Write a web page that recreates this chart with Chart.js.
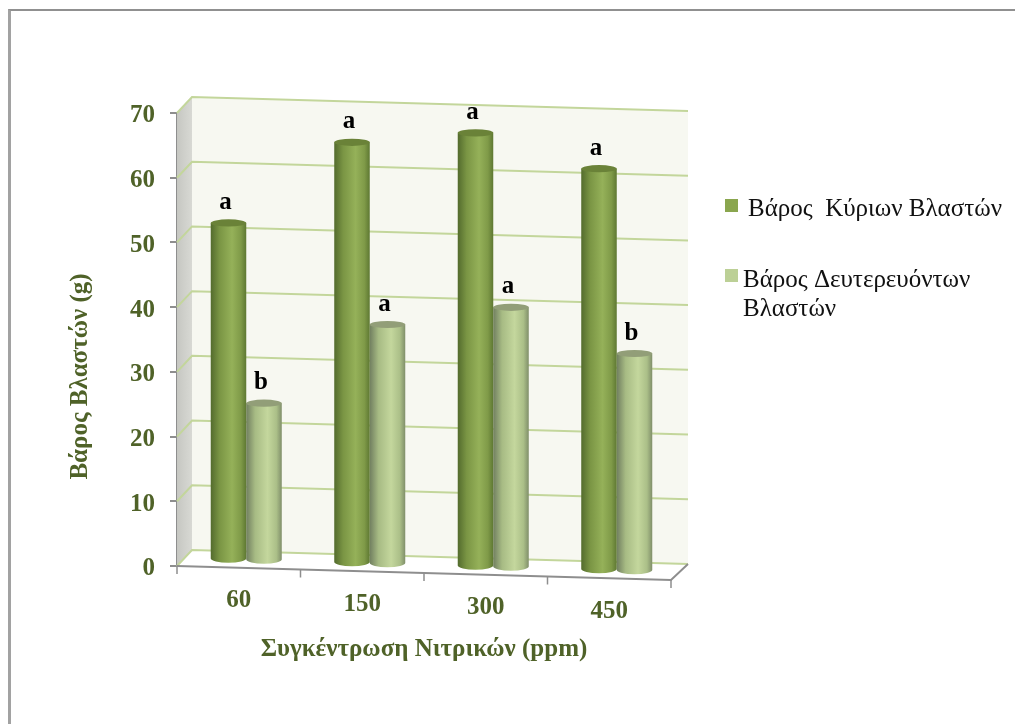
<!DOCTYPE html>
<html>
<head>
    <meta charset="utf-8">
    <title>Βάρος Βλαστών</title>
    <script src="https://cdn.jsdelivr.net/npm/chart.js"></script>
    <style>
        html, body { margin: 0; padding: 0; background: white; overflow: hidden; }
        .frame {
            position: absolute; left: 8px; top: 9px; right: -10px; bottom: -10px;
            border-left: 3px solid #a2a2a2;
            border-top: 2px solid #909090;
        }
        canvas { position: absolute; left: 0; top: 0; }
    </style>
</head>
<body>
    <div class="frame"></div>
    <canvas id="chart" width="1015" height="724"></canvas>

    <script>
        const categories = ['60', '150', '300', '450'];
        const mainShoots = [52, 65, 67, 62];
        const sideShoots = [24.3, 37, 40.2, 33.6];
        const mainLetters = ['a', 'a', 'a', 'a'];
        const sideLetters = ['b', 'a', 'a', 'b'];
        const yTicks = [0, 10, 20, 30, 40, 50, 60, 70];
        const legendMain = ['Βάρος  Κύριων Βλαστών'];
        const legendSide = ['Βάρος Δευτερευόντων', 'Βλαστών'];
        const yTitle = 'Βάρος Βλαστών (g)';

        const serif = '"Liberation Serif", "Times New Roman", serif';
        const axisGreen = '#4f6228';
        const gridGreen = '#c3d69b';
        const axisGrey = '#8e8e8e';

        // 3D look: depth of the box and the slope of the floor
        const depthX = 15;
        const depthXRight = 17;
        const depthY = 16;
        const slope = 0.0283;

        function drop(area, x) {
            return (x - area.left) * slope;
        }

        const box3d = {
            id: 'box3d',
            beforeDatasetsDraw(chart) {
                const { ctx, chartArea: area, scales } = chart;
                const y0 = scales.y.getPixelForValue(0);
                const y70 = scales.y.getPixelForValue(70);
                const endDrop = drop(area, area.right);
                const backRight = area.right + depthXRight;
                ctx.save();

                // side wall
                let g = ctx.createLinearGradient(area.left, 0, area.left + depthX, 0);
                g.addColorStop(0, '#c6c7c2');
                g.addColorStop(1, '#d8d9d4');
                ctx.fillStyle = g;
                ctx.beginPath();
                ctx.moveTo(area.left, y70);
                ctx.lineTo(area.left + depthX, y70 - depthY);
                ctx.lineTo(area.left + depthX, y0 - depthY);
                ctx.lineTo(area.left, y0);
                ctx.closePath();
                ctx.fill();

                // back wall
                ctx.fillStyle = '#f7f8f1';
                ctx.beginPath();
                ctx.moveTo(area.left + depthX, y70 - depthY);
                ctx.lineTo(backRight, y70 - depthY + endDrop);
                ctx.lineTo(backRight, y0 - depthY + endDrop);
                ctx.lineTo(area.left + depthX, y0 - depthY);
                ctx.closePath();
                ctx.fill();

                // gridlines wrap round the side and back walls
                ctx.strokeStyle = gridGreen;
                ctx.lineWidth = 2;
                yTicks.forEach(v => {
                    const y = scales.y.getPixelForValue(v);
                    ctx.beginPath();
                    ctx.moveTo(area.left, y);
                    ctx.lineTo(area.left + depthX, y - depthY);
                    ctx.lineTo(backRight, y - depthY + endDrop);
                    ctx.stroke();
                });

                // floor front edge, right edge and ticks
                ctx.strokeStyle = axisGrey;
                ctx.beginPath();
                ctx.moveTo(area.left, y0);
                ctx.lineTo(area.right, y0 + endDrop);
                ctx.lineTo(backRight, y0 + endDrop - depthY);
                ctx.stroke();
                ctx.lineWidth = 1.5;
                const step = (area.right - area.left) / categories.length;
                for (let i = 0; i <= categories.length; i++) {
                    const x = area.left + i * step;
                    ctx.beginPath();
                    ctx.moveTo(x, y0 + drop(area, x));
                    ctx.lineTo(x, y0 + drop(area, x) + 8);
                    ctx.stroke();
                }

                // category labels follow the slope of the floor
                ctx.fillStyle = axisGreen;
                ctx.font = 'bold 25px ' + serif;
                ctx.textAlign = 'center';
                ctx.textBaseline = 'middle';
                categories.forEach((c, i) => {
                    const x = scales.x.getPixelForValue(i);
                    ctx.fillText(c, x, y0 + drop(area, x) + 33);
                });

                // value labels, sitting a little under their tick marks
                ctx.textAlign = 'right';
                yTicks.forEach(v => {
                    ctx.fillText(String(v), area.left - 22, scales.y.getPixelForValue(v) + 3);
                });

                // y title sits below the middle of the axis, so it is placed by hand
                ctx.textAlign = 'center';
                ctx.save();
                ctx.translate(81, (y0 + y70) / 2 + 37);
                ctx.rotate(-Math.PI / 2);
                ctx.fillText(yTitle, 0, 0);
                ctx.restore();
                ctx.restore();
            },
            // each bar is painted as a cylinder in the middle of the box depth
            beforeDatasetDraw(chart, args) {
                const { ctx, chartArea: area } = chart;
                const meta = chart.getDatasetMeta(args.index);
                const shades = cylinderShades[args.index];
                ctx.save();
                meta.data.forEach(el => {
                    const p = el.getProps(['x', 'y', 'base', 'width'], true);
                    const cx = p.x + depthX / 2;
                    const r = p.width / 2;
                    const top = p.y + drop(area, cx) - depthY / 2;
                    const bottom = p.base + drop(area, cx) - depthY / 2;
                    const g = ctx.createLinearGradient(cx - r, 0, cx + r, 0);
                    shades.side.forEach((c, i) => g.addColorStop(shades.stops[i], c));
                    ctx.fillStyle = g;
                    ctx.beginPath();
                    ctx.moveTo(cx - r, top);
                    ctx.lineTo(cx - r, bottom);
                    ctx.ellipse(cx, bottom, r, 4.2, 0, Math.PI, 0, true);
                    ctx.lineTo(cx + r, top);
                    ctx.closePath();
                    ctx.fill();
                    ctx.fillStyle = shades.top;
                    ctx.beginPath();
                    ctx.ellipse(cx, top, r, 3.6, 0, 0, Math.PI * 2);
                    ctx.fill();
                });
                ctx.restore();
                return false;
            },
            afterDatasetsDraw(chart) {
                const { ctx, chartArea: area } = chart;
                ctx.save();

                // significance letters above the bars
                ctx.fillStyle = '#000';
                ctx.font = 'bold 25px ' + serif;
                ctx.textAlign = 'center';
                ctx.textBaseline = 'alphabetic';
                [mainLetters, sideLetters].forEach((letters, d) => {
                    chart.getDatasetMeta(d).data.forEach((el, i) => {
                        const cx = el.x + depthX / 2;
                        ctx.fillText(letters[i], cx - 3, el.y + drop(area, cx) - depthY / 2 - 14);
                    });
                });

                // legend
                ctx.textBaseline = 'middle';
                ctx.textAlign = 'left';
                ctx.font = '25px ' + serif;
                const right = area.right + 54;
                ctx.fillStyle = '#8aa64e';
                ctx.fillRect(right, 199, 13, 13);
                ctx.fillStyle = '#bcd096';
                ctx.fillRect(right, 269, 13, 13);
                ctx.fillStyle = '#111';
                legendMain.forEach((t, i) => ctx.fillText(t, right + 23, 209 + i * 29));
                legendSide.forEach((t, i) => ctx.fillText(t, right + 18, 280 + i * 29));
                ctx.restore();
            }
        };

        const cylinderShades = [
            {
                stops: [0, 0.25, 0.6, 0.85, 1],
                side: ['#536b2d', '#7a9544', '#95b159', '#7f9a48', '#5e7832'],
                top: '#6a8238'
            },
            {
                stops: [0, 0.25, 0.6, 0.85, 1],
                side: ['#717f60', '#a7bb84', '#c4d79d', '#abbf88', '#808f6a'],
                top: '#929e78'
            }
        ];

        new Chart(document.getElementById('chart').getContext('2d'), {
            type: 'bar',
            plugins: [box3d],
            data: {
                labels: categories,
                datasets: [
                    { label: legendMain[0], data: mainShoots, backgroundColor: '#8aa64e' },
                    { label: legendSide.join(' '), data: sideShoots, backgroundColor: '#bcd096' }
                ]
            },
            options: {
                responsive: false,
                animation: false,
                categoryPercentage: 0.575,
                barPercentage: 1,
                layout: { padding: { left: 65, top: 113, right: 344, bottom: 59 } },
                plugins: { legend: { display: false }, tooltip: { enabled: false } },
                scales: {
                    x: {
                        grid: { display: false },
                        border: { display: false },
                        ticks: { display: false },
                        title: {
                            display: true,
                            text: 'Συγκέντρωση Νιτρικών (ppm)',
                            color: axisGreen,
                            font: { family: serif, size: 25, weight: 'bold' },
                            padding: 0
                        },
                        afterFit(s) { s.height = 99; }
                    },
                    y: {
                        min: 0,
                        max: 70,
                        afterBuildTicks(s) { s.ticks = yTicks.map(v => ({ value: v })); },
                        grid: { drawOnChartArea: false, color: axisGrey, lineWidth: 2, tickLength: 7 },
                        border: { color: axisGrey, width: 2 },
                        ticks: { display: false },
                        afterFit(s) { s.width = 112; }
                    }
                }
            }
        });
    </script>
</body>
</html>
